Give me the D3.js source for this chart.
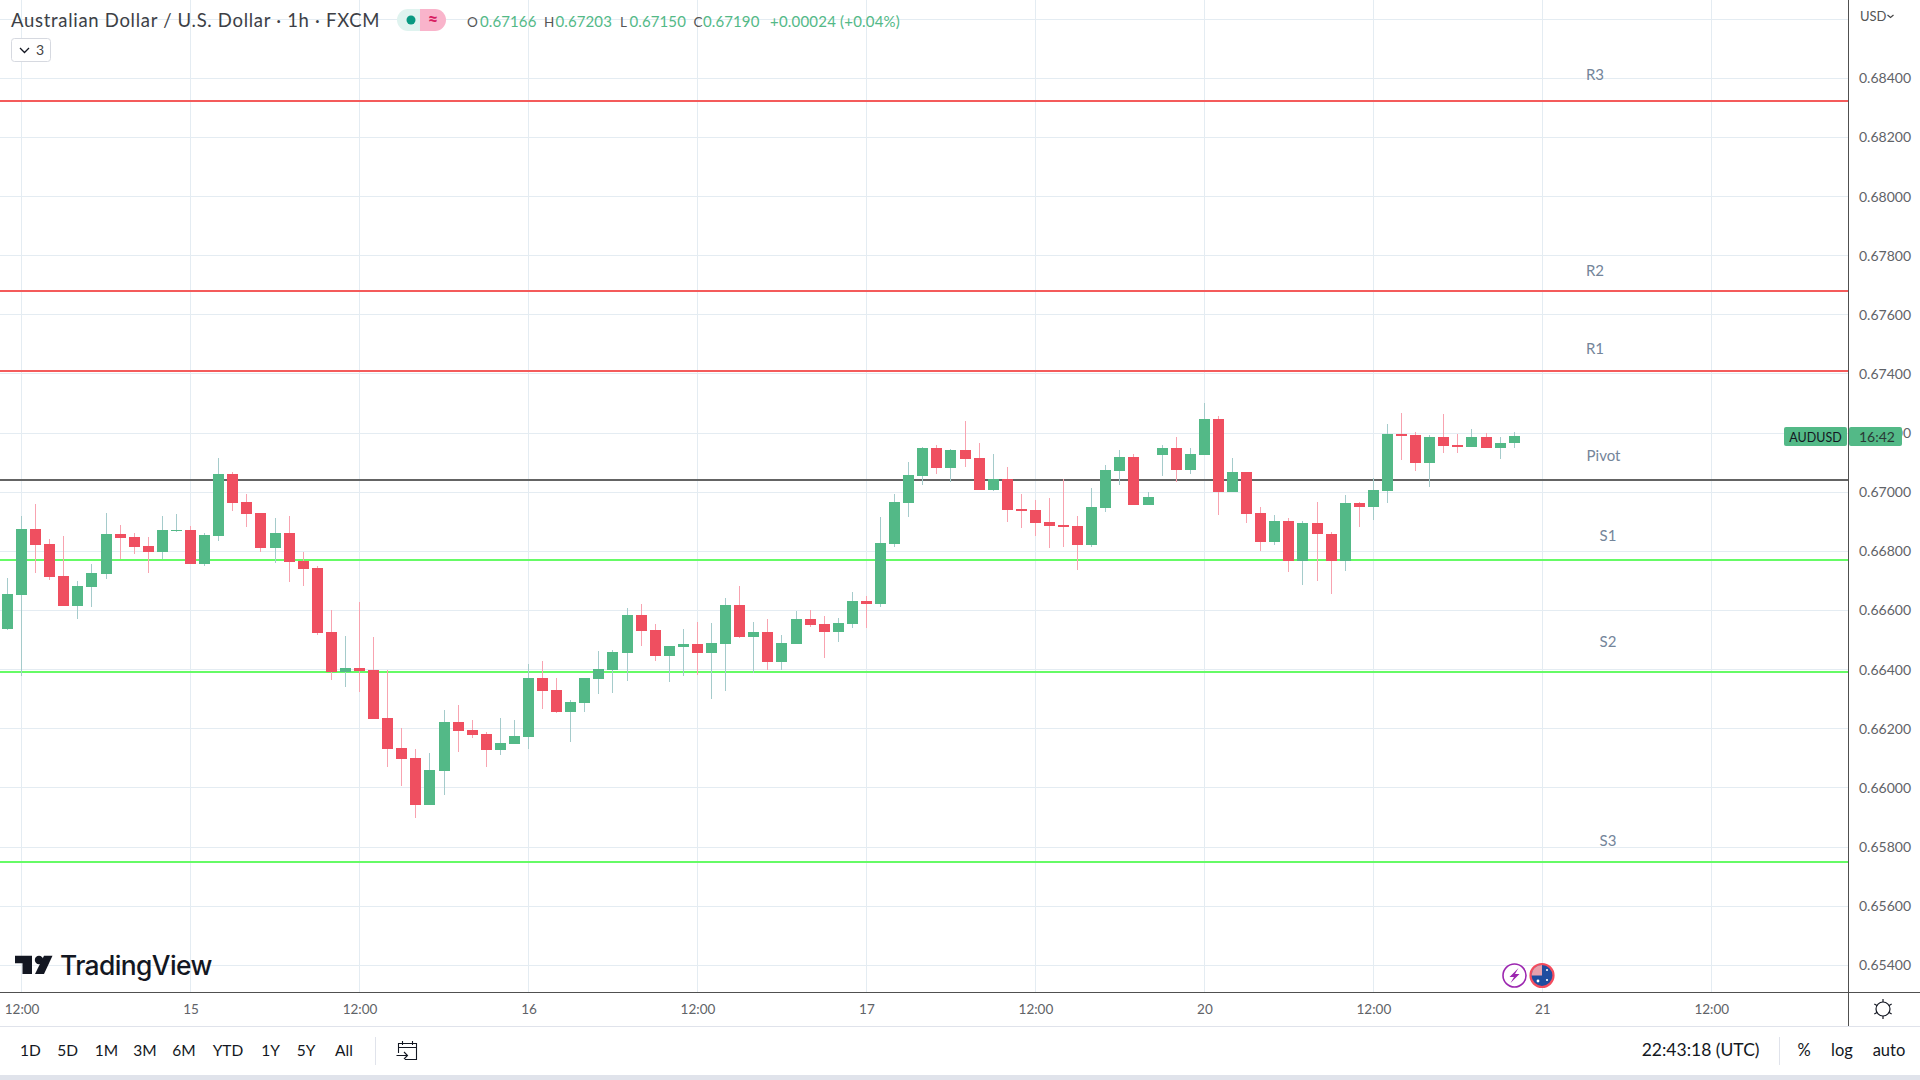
<!DOCTYPE html>
<html>
<head>
<meta charset="utf-8">
<title>AUDUSD</title>
<script src="https://cdn.jsdelivr.net/npm/d3@7"></script>
<style>
html, body { margin: 0; padding: 0; background: #fff; overflow: hidden; }
svg { display: block; }
text { font-family: Lato, "Open Sans", sans-serif; }
</style>
</head>
<body>
<svg width="1920" height="1080"></svg>
<script>
// hourly candles
var opens = [0.66538,0.66653,0.66876,0.66825,0.66717,0.66616,0.66680,0.66724,0.66859,0.66849,0.66819,0.66798,0.66869,0.66873,0.66758,0.66852,0.67062,0.66967,0.66930,0.66812,0.66863,0.66768,0.66744,0.66528,0.66393,0.66406,0.66399,0.66237,0.66136,0.66102,0.65943,0.66058,0.66224,0.66196,0.66183,0.66129,0.66149,0.66173,0.66372,0.66332,0.66257,0.66288,0.66369,0.66399,0.66457,0.66585,0.66535,0.66447,0.66477,0.66487,0.66457,0.66487,0.66619,0.66511,0.66528,0.66426,0.66487,0.66572,0.66555,0.66528,0.66555,0.66633,0.66622,0.66825,0.66964,0.67055,0.67150,0.67082,0.67143,0.67116,0.67008,0.67045,0.66944,0.66940,0.66900,0.66890,0.66886,0.66822,0.66947,0.67072,0.67119,0.66957,0.67126,0.67150,0.67076,0.67126,0.67248,0.67001,0.67069,0.66930,0.66832,0.66903,0.66768,0.66896,0.66859,0.66768,0.66964,0.66950,0.67005,0.67197,0.67194,0.67099,0.67187,0.67160,0.67153,0.67187,0.67150,0.67166];
var highs = [0.66710,0.66920,0.66961,0.66842,0.66852,0.66700,0.66758,0.66930,0.66890,0.66863,0.66849,0.66920,0.66927,0.66886,0.66863,0.67116,0.67069,0.66994,0.66930,0.66913,0.66920,0.66798,0.66751,0.66602,0.66514,0.66629,0.66511,0.66399,0.66203,0.66132,0.66119,0.66264,0.66281,0.66230,0.66190,0.66237,0.66230,0.66420,0.66430,0.66372,0.66298,0.66372,0.66464,0.66467,0.66609,0.66622,0.66555,0.66480,0.66538,0.66562,0.66558,0.66643,0.66683,0.66562,0.66572,0.66518,0.66599,0.66602,0.66582,0.66575,0.66663,0.66650,0.66917,0.66994,0.67103,0.67153,0.67160,0.67147,0.67241,0.67167,0.67130,0.67086,0.66994,0.66974,0.66981,0.67045,0.66920,0.67015,0.67092,0.67143,0.67130,0.67001,0.67160,0.67187,0.67150,0.67302,0.67258,0.67116,0.67069,0.66950,0.66923,0.66913,0.66903,0.66967,0.66866,0.66991,0.66967,0.67047,0.67231,0.67268,0.67204,0.67194,0.67265,0.67197,0.67214,0.67201,0.67187,0.67203];
var lows = [0.66535,0.66379,0.66727,0.66704,0.66616,0.66572,0.66612,0.66707,0.66775,0.66792,0.66727,0.66775,0.66866,0.66758,0.66751,0.66835,0.66937,0.66883,0.66798,0.66761,0.66697,0.66683,0.66518,0.66366,0.66342,0.66325,0.66234,0.66071,0.66007,0.65899,0.65943,0.65977,0.66122,0.66169,0.66071,0.66112,0.66149,0.66132,0.66267,0.66254,0.66156,0.66257,0.66318,0.66322,0.66362,0.66480,0.66430,0.66359,0.66379,0.66382,0.66301,0.66328,0.66508,0.66389,0.66399,0.66399,0.66487,0.66545,0.66440,0.66494,0.66541,0.66541,0.66612,0.66815,0.66917,0.67025,0.67062,0.67035,0.67086,0.67008,0.67005,0.66900,0.66879,0.66852,0.66812,0.66815,0.66737,0.66815,0.66934,0.67025,0.66957,0.66957,0.67055,0.67035,0.67062,0.67126,0.66923,0.67001,0.66896,0.66802,0.66822,0.66731,0.66687,0.66700,0.66656,0.66734,0.66883,0.66906,0.66965,0.67109,0.67072,0.67018,0.67133,0.67133,0.67153,0.67150,0.67113,0.67150];
var closes = [0.66656,0.66876,0.66822,0.66714,0.66616,0.66683,0.66727,0.66859,0.66846,0.66815,0.66798,0.66873,0.66873,0.66758,0.66856,0.67062,0.66964,0.66927,0.66812,0.66863,0.66764,0.66741,0.66524,0.66393,0.66406,0.66396,0.66234,0.66132,0.66098,0.65943,0.66061,0.66224,0.66193,0.66180,0.66129,0.66153,0.66176,0.66372,0.66328,0.66257,0.66291,0.66372,0.66403,0.66460,0.66585,0.66531,0.66447,0.66480,0.66487,0.66457,0.66491,0.66619,0.66511,0.66528,0.66426,0.66491,0.66572,0.66551,0.66528,0.66558,0.66633,0.66622,0.66829,0.66967,0.67059,0.67150,0.67082,0.67143,0.67113,0.67008,0.67045,0.66940,0.66937,0.66896,0.66886,0.66883,0.66822,0.66950,0.67076,0.67119,0.66957,0.66984,0.67150,0.67076,0.67130,0.67248,0.67001,0.67069,0.66927,0.66832,0.66903,0.66768,0.66896,0.66859,0.66768,0.66964,0.66950,0.67008,0.67197,0.67190,0.67099,0.67187,0.67157,0.67153,0.67187,0.67150,0.67167,0.67190];

// pivot levels
var levelNames = ['R3', 'R2', 'R1', 'Pivot', 'S1', 'S2', 'S3'];
var levelValues = [0.68323, 0.67679, 0.67410, 0.67041, 0.66771, 0.66392, 0.65749];

// axes
var priceTicks = [0.684, 0.682, 0.680, 0.678, 0.676, 0.674, 0.672, 0.670, 0.668, 0.666, 0.664, 0.662, 0.660, 0.658, 0.656, 0.654];
var timeTickBars = [1, 13, 25, 37, 49, 61, 73, 85, 97, 109, 121];
var timeTickLabels = ['12:00', '15', '12:00', '16', '12:00', '17', '12:00', '20', '12:00', '21', '12:00'];
var rangeButtons = ['1D', '5D', '1M', '3M', '6M', 'YTD', '1Y', '5Y', 'All'];

var svg = d3.select('svg');
var plotRight = 1848, plotBottom = 992;

var x = d3.scaleLinear().domain([0, 121]).range([7.5, 1711.3]);
var y = d3.scaleLinear().domain([0.654, 0.684]).range([965.3, 78.3]);

var green = '#53b987', red = '#ef4f60';
var greenWick = '#a5cbcb', redWick = '#f8a3b0';
var axisText = '#5f6368', darkText = '#131722';

var defs = svg.append('defs');
defs.append('clipPath').attr('id', 'plot')
    .append('rect').attr('width', plotRight).attr('height', plotBottom);

var plot = svg.append('g').attr('clip-path', 'url(#plot)');

// grid
var gridColor = '#e4ecf2';
plot.selectAll('.hgrid').data(priceTicks.concat([0.686]))
    .enter().append('rect')
    .attr('x', 0).attr('width', plotRight)
    .attr('y', function(d) { return Math.round(y(d) - 0.5); })
    .attr('height', 1).attr('fill', gridColor);
plot.selectAll('.vgrid').data(timeTickBars)
    .enter().append('rect')
    .attr('y', 0).attr('height', plotBottom)
    .attr('x', function(d) { return Math.round(x(d) - 0.5); })
    .attr('width', 1).attr('fill', gridColor);

// pivot lines
var levelColors = { R: '#f45b5b', P: '#646464', S: '#66fb66' };
plot.selectAll('.level').data(levelValues)
    .enter().append('rect')
    .attr('x', 0).attr('width', plotRight)
    .attr('y', function(d) { return Math.round(y(d)) - 1; })
    .attr('height', 2)
    .attr('fill', function(d, i) { return levelColors[levelNames[i][0]]; });

// x position and height shift for each pivot label, the chart placed them unevenly
var labelX = [1595, 1595, 1595, 1603.5, 1608, 1608, 1608];
var labelLift = [26, 21, 22, 24, 24, 30, 21];
plot.selectAll('.levelLabel').data(levelNames)
    .enter().append('text')
    .attr('x', function(d, i) { return labelX[i]; })
    .attr('y', function(d, i) { return y(levelValues[i]) - labelLift[i]; })
    .attr('dy', '0.35em')
    .attr('text-anchor', 'middle')
    .attr('font-size', 15)
    .attr('fill', '#74859a')
    .text(function(d) { return d; });

// candles
var bars = d3.range(opens.length);
var up = function(i) { return closes[i] >= opens[i]; };

plot.selectAll('.wick').data(bars)
    .enter().append('rect')
    .attr('shape-rendering', 'crispEdges')
    .attr('x', function(i) { return Math.round(x(i) - 0.5); })
    .attr('y', function(i) { return y(highs[i]); })
    .attr('width', 1)
    .attr('height', function(i) { return y(lows[i]) - y(highs[i]); })
    .attr('fill', function(i) { return up(i) ? greenWick : redWick; });

plot.selectAll('.body').data(bars)
    .enter().append('rect')
    .attr('shape-rendering', 'crispEdges')
    .attr('x', function(i) { return Math.round(x(i) - 0.5) - 5; })
    .attr('y', function(i) { return y(Math.max(opens[i], closes[i])); })
    .attr('width', 11)
    .attr('height', function(i) { return Math.max(1, Math.abs(y(opens[i]) - y(closes[i]))); })
    .attr('fill', function(i) { return up(i) ? green : red; });

// price axis
var priceAxis = d3.axisRight(y)
    .tickValues(priceTicks)
    .tickSize(0)
    .tickPadding(11)
    .tickFormat(d3.format('.5f'));
var priceG = svg.append('g').attr('transform', 'translate(' + plotRight + ',0)').call(priceAxis);
priceG.select('.domain').remove();
priceG.selectAll('text')
    .attr('font-size', 14)
    .attr('fill', axisText)
    .style('font-family', 'Lato');

// time axis
var timeAxis = d3.axisBottom(x)
    .tickValues(timeTickBars)
    .tickSize(0)
    .tickPadding(12.5)
    .tickFormat(function(d, i) { return timeTickLabels[i]; });
var timeG = svg.append('g').attr('transform', 'translate(0,' + plotBottom + ')').call(timeAxis);
timeG.select('.domain').remove();
timeG.selectAll('text')
    .attr('font-size', 13.5)
    .attr('fill', axisText)
    .style('font-family', 'Lato');

// frame lines
svg.append('rect').attr('x', 0).attr('y', plotBottom).attr('width', 1920 - 71).attr('height', 1).attr('fill', '#505050');
svg.append('rect').attr('x', plotRight).attr('y', 0).attr('width', 1).attr('height', 1026).attr('fill', '#505050');
svg.append('rect').attr('x', 1849).attr('y', plotBottom).attr('width', 71).attr('height', 1).attr('fill', '#505050');
svg.append('rect').attr('x', 0).attr('y', 1026).attr('width', 1920).attr('height', 1).attr('fill', '#e0e3eb');
svg.append('rect').attr('x', 0).attr('y', 1075).attr('width', 1920).attr('height', 5).attr('fill', '#e0e3eb');

// last price tag
var tag = svg.append('g');
tag.append('rect').attr('x', 1784).attr('y', 427).attr('width', 63).attr('height', 19).attr('rx', 2).attr('fill', green);
tag.append('rect').attr('x', 1849).attr('y', 427).attr('width', 53).attr('height', 19).attr('rx', 2).attr('fill', green);
tag.append('text').attr('x', 1815.5).attr('y', 441.5).attr('text-anchor', 'middle').attr('font-size', 12.5).attr('fill', darkText).text('AUDUSD');
tag.append('text').attr('x', 1877).attr('y', 441.5).attr('text-anchor', 'middle').attr('font-size', 14).attr('fill', '#2a3a36').text('16:42');

// header
svg.append('text').attr('x', 11).attr('y', 27).attr('font-size', 18.5).attr('letter-spacing', 0.7).attr('fill', '#3d3f46')
    .text('Australian Dollar / U.S. Dollar · 1h · FXCM');

svg.append('path').attr('d', 'M420 9h-12a11 11 0 0 0 0 22h12z').attr('fill', '#dff3ef');
svg.append('path').attr('d', 'M420 9h15a11 11 0 0 1 0 22h-15z').attr('fill', '#f9b4cb');
svg.append('circle').attr('cx', 411).attr('cy', 20).attr('r', 4.5).attr('fill', '#089981');
svg.append('text').attr('x', 433).attr('y', 26).attr('text-anchor', 'middle').attr('font-size', 18).attr('font-weight', 700).attr('fill', '#d81b60').text('≈');

var quoteNames = ['O', 'H', 'L', 'C'];
var quoteValues = ['0.67166', '0.67203', '0.67150', '0.67190'];
var quoteX = [467, 544, 620, 693.5];
var valueX = [480, 555.5, 629.5, 703];
svg.selectAll('.qn').data(quoteNames).enter().append('text')
    .attr('x', function(d, i) { return quoteX[i]; }).attr('y', 27)
    .attr('font-size', 13.5).attr('fill', '#555').text(function(d) { return d; });
svg.selectAll('.qv').data(quoteValues).enter().append('text')
    .attr('x', function(d, i) { return valueX[i]; }).attr('y', 27)
    .attr('font-size', 15).attr('letter-spacing', 0.1).attr('fill', green).text(function(d) { return d; });
svg.append('text').attr('x', 770).attr('y', 27).attr('font-size', 15).attr('letter-spacing', 0.2).attr('fill', green).text('+0.00024 (+0.04%)');

svg.append('rect').attr('x', 11.5).attr('y', 38.5).attr('width', 39).attr('height', 23).attr('rx', 3)
    .attr('fill', '#fff').attr('stroke', '#d6d9e0');
svg.append('path').attr('d', 'M20 48l4.5 4.5l4.5 -4.5').attr('fill', 'none').attr('stroke', darkText).attr('stroke-width', 1.3);
svg.append('text').attr('x', 40).attr('y', 55).attr('text-anchor', 'middle').attr('font-size', 14).attr('fill', '#444').text('3');

svg.append('text').attr('x', 1860).attr('y', 21).attr('font-size', 13).attr('fill', '#555').text('USD');
svg.append('path').attr('d', 'M1887.5 15l3 2.5l3 -2.5').attr('fill', 'none').attr('stroke', '#444').attr('stroke-width', 1.2);

// logo
var logo = svg.append('g').attr('fill', '#131722');
logo.append('path').attr('d', 'M15 955.7H32V974H22.5V963.3H15z');
logo.append('circle').attr('cx', 39).attr('cy', 960).attr('r', 4.2);
logo.append('path').attr('d', 'M44 955.7H52.5L44 974H35z');
logo.append('text').attr('x', 60).attr('y', 975).attr('font-size', 26.4).attr('font-weight', 500)
    .style('font-family', 'Inter').attr('letter-spacing', -0.6).text('TradingView');

// event markers
svg.append('circle').attr('cx', 1514.5).attr('cy', 975.5).attr('r', 11.5).attr('fill', '#fff').attr('stroke', '#9c27b0').attr('stroke-width', 1.6);
svg.append('path').attr('d', 'M1518.5 968L1509.5 977H1514L1510.5 983L1519.5 974H1515z').attr('fill', '#9c27b0');
svg.append('circle').attr('cx', 1542).attr('cy', 975.5).attr('r', 11.5).attr('fill', '#1f4da0').attr('stroke', '#f44d5e').attr('stroke-width', 2.2);
svg.append('path').attr('d', 'M1542 975.5V965a10.5 10.5 0 0 0 -10.5 10.5z').attr('fill', '#e8a0ac');
svg.append('circle').attr('cx', 1547).attr('cy', 980).attr('r', 1.1).attr('fill', '#fff');
svg.append('circle').attr('cx', 1538).attr('cy', 981).attr('r', 1.4).attr('fill', '#fff');
svg.append('circle').attr('cx', 1547).attr('cy', 970).attr('r', 1).attr('fill', '#fff');

// bottom toolbar
var buttonX = [30.5, 67.7, 106.5, 145, 184, 228, 270.5, 306, 344];
svg.selectAll('.range').data(rangeButtons).enter().append('text')
    .attr('x', function(d, i) { return buttonX[i]; })
    .attr('y', 1056)
    .attr('text-anchor', 'middle')
    .attr('font-size', 15.5)
    .attr('fill', darkText)
    .text(function(d) { return d; });
svg.append('rect').attr('x', 375).attr('y', 1037).attr('width', 1).attr('height', 28).attr('fill', '#e0e3eb');

// go to date icon
svg.append('path').attr('fill', 'none').attr('stroke', darkText).attr('stroke-width', 1.1)
    .attr('d', 'M398.5 1053V1043.5H416.5V1059.5H405M398.5 1047.5H416.5M402.5 1041V1045M412.5 1041V1045M396.5 1055.5H407.5M404 1052l3.5 3.5l-3.5 3.5');

svg.append('text').attr('x', 1759.5).attr('y', 1056).attr('text-anchor', 'end').attr('font-size', 17.5).attr('fill', darkText).text('22:43:18 (UTC)');
svg.append('rect').attr('x', 1779).attr('y', 1037).attr('width', 1).attr('height', 28).attr('fill', '#e0e3eb');
svg.append('text').attr('x', 1804).attr('y', 1056).attr('text-anchor', 'middle').attr('font-size', 16.5).attr('fill', darkText).text('%');
svg.append('text').attr('x', 1842).attr('y', 1056).attr('text-anchor', 'middle').attr('font-size', 16.5).attr('fill', darkText).text('log');
svg.append('text').attr('x', 1889).attr('y', 1056).attr('text-anchor', 'middle').attr('font-size', 16.5).attr('fill', darkText).text('auto');

// settings gear
svg.append('circle').attr('cx', 1883).attr('cy', 1009).attr('r', 7).attr('fill', 'none').attr('stroke', darkText).attr('stroke-width', 1.2);
svg.selectAll('.ray').data(d3.range(6)).enter().append('line')
    .attr('x1', function(d) { return 1883 + 7 * Math.cos(d * Math.PI / 3 + Math.PI / 6); })
    .attr('y1', function(d) { return 1009 + 7 * Math.sin(d * Math.PI / 3 + Math.PI / 6); })
    .attr('x2', function(d) { return 1883 + 10 * Math.cos(d * Math.PI / 3 + Math.PI / 6); })
    .attr('y2', function(d) { return 1009 + 10 * Math.sin(d * Math.PI / 3 + Math.PI / 6); })
    .attr('stroke', darkText).attr('stroke-width', 1.2);
</script>
</body>
</html>
